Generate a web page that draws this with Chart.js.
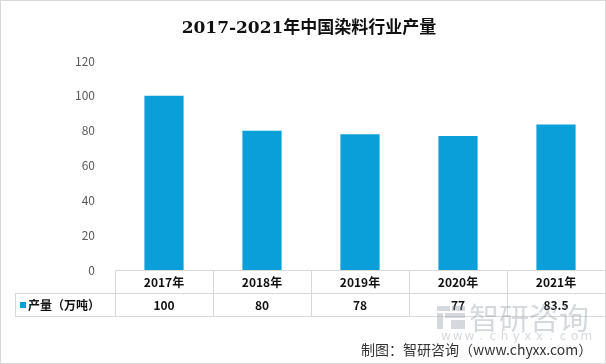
<!DOCTYPE html>
<html>
<head>
<meta charset="utf-8">
<script src="https://cdn.jsdelivr.net/npm/chart.js@4"></script>
<style>
  html, body { margin: 0; padding: 0; background: #fff; }
  #wrap { width: 606px; height: 364px; position: relative; }
</style>
</head>
<body>
<div id="wrap"><canvas id="c" width="606" height="364"></canvas></div>
<script>
const years = ['2017年', '2018年', '2019年', '2020年', '2021年'];
const output = [100, 80, 78, 77, 83.5];
const outputLabels = ['100', '80', '78', '77', '83.5'];
const seriesName = '产量（万吨）';
const yTicks = [0, 20, 40, 60, 80, 100, 120];

const BLUE = '#0a9fd8';
const LINE = '#d9d9d9';
const CJK = '"Microsoft YaHei", "Noto Sans CJK SC", sans-serif';

// title, data table, watermark and footer drawn on top of the chart
const extras = {
  id: 'extras',
  afterDraw(chart) {
    const ctx = chart.ctx;
    const x = chart.scales.x;
    const area = chart.chartArea;
    const top = area.bottom, mid = top + 23, bot = mid + 23;
    const step = x.getPixelForValue(1) - x.getPixelForValue(0);
    const left = x.getPixelForValue(0) - step / 2;
    const right = 605;

    ctx.save();
    // title
    ctx.fillStyle = '#111';
    ctx.font = 'bold 17px "DejaVu Serif", "Noto Sans CJK SC", serif';
    ctx.textAlign = 'center';
    ctx.textBaseline = 'middle';
    ctx.fillText('2017-2021年中国染料行业产量', 309, 29);

    // table grid
    ctx.strokeStyle = LINE;
    ctx.lineWidth = 1;
    ctx.beginPath();
    ctx.moveTo(left, top + 0.5); ctx.lineTo(right, top + 0.5);
    ctx.moveTo(15, mid + 0.5); ctx.lineTo(right, mid + 0.5);
    ctx.moveTo(15, bot + 0.5); ctx.lineTo(right, bot + 0.5);
    ctx.moveTo(15.5, mid); ctx.lineTo(15.5, bot);
    for (let i = 0; i < years.length; i++) {
      const px = Math.round(left + i * step) + 0.5;
      ctx.moveTo(px, top); ctx.lineTo(px, bot);
    }
    ctx.stroke();

    // table text
    ctx.fillStyle = '#111';
    ctx.font = 'bold 12px ' + CJK;
    years.forEach((y, i) => {
      const px = x.getPixelForValue(i);
      ctx.fillText(y, px, top + 12);
      ctx.fillText(outputLabels[i], px, mid + 12);
    });
    ctx.fillStyle = BLUE;
    ctx.fillRect(20, mid + 9, 6, 6);
    ctx.fillStyle = '#111';
    ctx.textAlign = 'left';
    ctx.fillText(seriesName, 28, mid + 12);

    // watermark
    ctx.fillStyle = 'rgba(150,160,170,0.4)';
    ctx.fillRect(437, 306, 13, 5);
    ctx.fillRect(452, 306, 13, 5);
    ctx.fillRect(437, 313, 6, 16);
    ctx.fillRect(445, 313, 20, 5);
    ctx.fillRect(451, 320, 14, 9);
    ctx.font = '30px ' + CJK;
    ctx.fillText('智研咨询', 469, 318);
    ctx.font = '12px "DejaVu Sans", sans-serif';
    ctx.textAlign = 'center';
    'www.chyxx.com'.split('').forEach((ch, i) => ctx.fillText(ch, 446 + i * 11.7, 337));

    // footer
    ctx.fillStyle = '#333';
    ctx.textAlign = 'left';
    ctx.font = '14px ' + CJK;
    ctx.fillText('制图：智研咨询（www.chyxx.com）', 361, 350);

    // outer border
    ctx.strokeStyle = LINE;
    ctx.strokeRect(0.5, 0.5, 605, 363);
    ctx.restore();
  }
};

new Chart(document.getElementById('c'), {
  type: 'bar',
  data: {
    labels: years,
    datasets: [{
      label: seriesName,
      data: output,
      backgroundColor: BLUE,
      barPercentage: 0.4,
      categoryPercentage: 1
    }]
  },
  options: {
    responsive: false,
    animation: false,
    layout: { padding: { top: 61, bottom: 94, right: 1, left: 0 } },
    plugins: { legend: { display: false }, tooltip: { enabled: false } },
    scales: {
      x: { display: false },
      y: {
        min: 0, max: 120,
        afterFit(s) { s.width = 115; },
        afterBuildTicks(s) { s.ticks = yTicks.map(v => ({ value: v })); },
        grid: { display: false },
        border: { display: false },
        ticks: { padding: 12, color: '#595959', font: { size: 12, family: CJK } }
      }
    }
  },
  plugins: [extras]
});
</script>
</body>
</html>
